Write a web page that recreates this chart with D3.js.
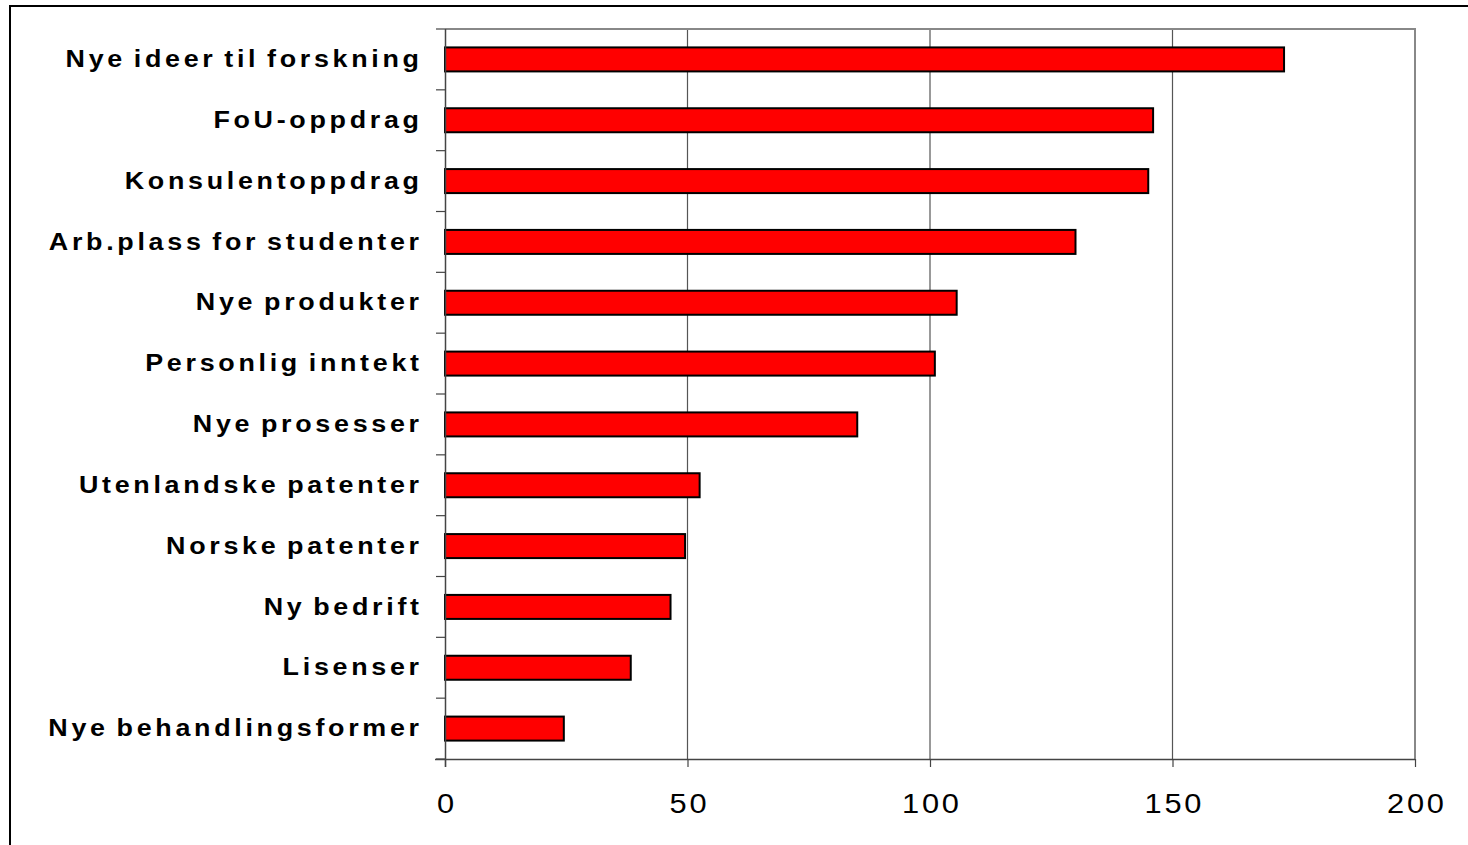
<!DOCTYPE html>
<html><head><meta charset="utf-8">
<script src="https://cdn.jsdelivr.net/npm/d3@7"></script>
<style>
html,body{margin:0;padding:0;background:#fff;}
svg{display:block;}
</style></head>
<body>
<svg id="c" width="1468" height="845"></svg>
<script>
const categories = ["Nye ideer til forskning","FoU-oppdrag","Konsulentoppdrag","Arb.plass for studenter","Nye produkter","Personlig inntekt","Nye prosesser","Utenlandske patenter","Norske patenter","Ny bedrift","Lisenser","Nye behandlingsformer"];
const values = [173, 146, 145, 130, 105.5, 101, 85, 52.5, 49.5, 46.5, 38.3, 24.5];
const tickValues = [0, 50, 100, 150, 200];

const svg = d3.select("#c");
const L = 445, R = 1415, T = 29, B = 759;

// outer frame
svg.append("rect").attr("x",10).attr("y",6).attr("width",1470).attr("height",860)
  .attr("fill","none").attr("stroke","#000").attr("stroke-width",2);

const x = d3.scaleLinear().domain([0,200]).range([L,R]);
const yb = d3.scaleBand().domain(categories).range([T,B]);

// gridlines
svg.append("g").selectAll("line").data(tickValues.filter(v=>v>0 && v<200)).join("line")
  .attr("x1",d=>x(d)).attr("x2",d=>x(d)).attr("y1",T).attr("y2",B)
  .attr("stroke","#555").attr("stroke-width",1.2);

// plot border top/right
svg.append("path").attr("d",`M${L},${T}H${R}V${B}`).attr("fill","none")
  .attr("stroke","#888").attr("stroke-width",2);

// bars
svg.append("g").selectAll("rect").data(values).join("rect")
  .attr("x",x(0)).attr("y",(d,i)=>yb(categories[i]) + yb.bandwidth()/2 - 12)
  .attr("width",d=>x(d)-x(0)).attr("height",24)
  .attr("fill","#ff0000").attr("stroke","#000").attr("stroke-width",2);

// x axis
const tls = 2.5, tsx = 1.1;
const xa = svg.append("g").attr("transform",`translate(0,${B})`)
  .call(d3.axisBottom(x).tickValues(tickValues).tickSize(8).tickPadding(26).tickSizeOuter(0));
xa.select(".domain").attr("stroke","#444").attr("stroke-width",1.5).attr("d",`M${L-10},0.5H${R}`);
xa.selectAll(".tick line").attr("stroke","#444").attr("stroke-width",1.2);
xa.selectAll(".tick text").attr("font-family","Liberation Sans, Arial, sans-serif")
  .attr("font-size","28px").attr("fill","#000").style("letter-spacing",tls+"px")
  .attr("x",(tls/2)).attr("transform",`scale(${tsx},1)`);

// y axis
const lls = 3.3, lsx = 1.12;
const ya = svg.append("g").attr("transform",`translate(${L},0)`)
  .call(d3.axisLeft(yb).tickSize(0));
ya.select(".domain").attr("stroke","#444").attr("stroke-width",1.5).attr("d",`M0.5,${T}V${B+8}`);
ya.selectAll(".tick text").attr("font-family","Liberation Sans, Arial, sans-serif")
  .attr("font-weight","bold").attr("font-size","24px").attr("fill","#000")
  .style("letter-spacing",lls+"px").style("word-spacing","-3px")
  .attr("x",(-26/lsx + lls)).attr("dy","0.32em").attr("transform",`scale(${lsx},1)`);
// category boundary ticks
const bounds = categories.map(c=>yb(c)).concat([B]);
svg.append("g").selectAll("line").data(bounds).join("line")
  .attr("x1",L-9).attr("x2",L).attr("y1",d=>d).attr("y2",d=>d)
  .attr("stroke","#444").attr("stroke-width",1.2);
</script>
</body></html>
